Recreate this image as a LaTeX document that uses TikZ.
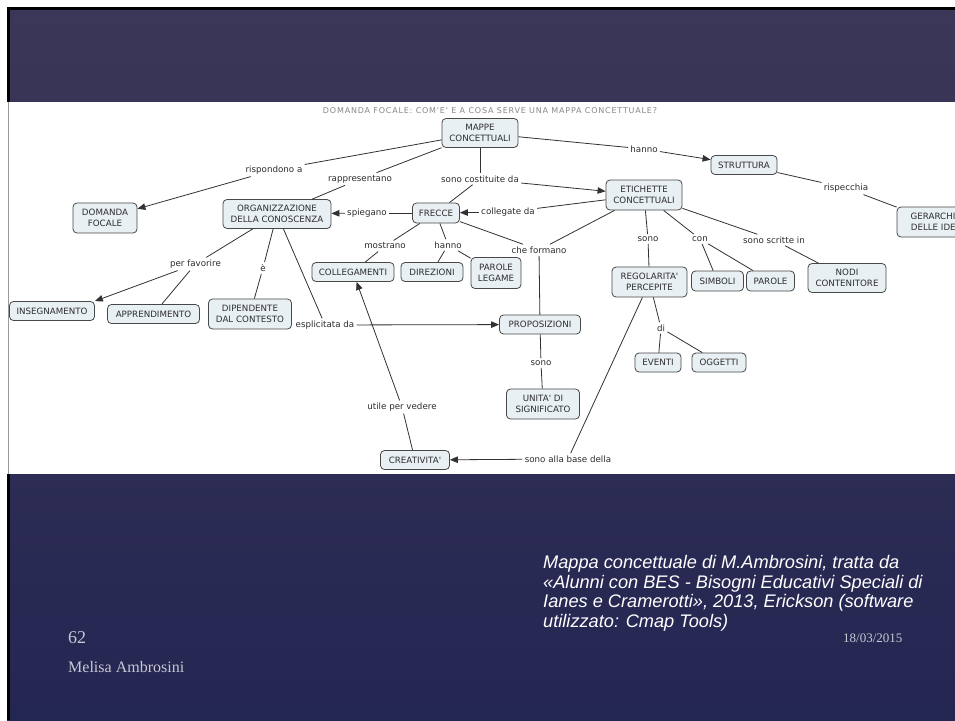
\documentclass[tikz,border=0pt]{standalone}
\usepackage{fontspec}
\setmainfont{DejaVu Sans}
\newfontfamily\mapfont{DejaVu Sans}
\newfontfamily\notefont{Liberation Sans}
\newfontfamily\footfont{Liberation Serif}
\usetikzlibrary{arrows.meta}

\definecolor{slidetop}{RGB}{59,55,88}
\definecolor{slidebot}{RGB}{36,38,82}
\definecolor{conceptfill}{RGB}{233,240,243}
\definecolor{conceptdraw}{RGB}{72,72,72}
\definecolor{inktext}{RGB}{45,45,45}
\definecolor{linkline}{RGB}{50,50,50}
\definecolor{titlegrey}{RGB}{135,135,135}
\definecolor{footgrey}{RGB}{200,200,212}

\begin{document}
\begin{tikzpicture}[x=1pt,y=-1pt,
  concept/.style={draw=conceptdraw, fill=conceptfill, rounded corners=4pt,
    line width=0.8pt, inner sep=0pt, align=center, text=inktext,
    font=\mapfont\fontsize{8.7}{10.7}\selectfont},
  sz/.style 2 args={minimum width=#1pt, minimum height=#2pt},
  lbl/.style={inner sep=2.2pt, text=inktext,
    font=\mapfont\fontsize{8.7}{10.7}\selectfont},
  link/.style={draw=linkline, line width=0.8pt},
  arrowlink/.style={link, -{Triangle[length=8pt,width=6.5pt]}},
]
\clip (0,0) rectangle (955,720);

% slide background and frame
\fill[white] (0,0) rectangle (955,720);
\shade[top color=slidetop, bottom color=slidebot] (7,7) rectangle (955,720);
\fill[black] (7,7) rectangle (955,9.5);
\fill[black] (7,7) rectangle (10,720);

% white area holding the concept map
\fill[white] (7,102) rectangle (955,474);
\fill[black!40] (7.6,102) rectangle (9.4,474);

\node[font=\mapfont\fontsize{8}{9}\selectfont\addfontfeature{LetterSpace=10}, text=titlegrey, inner sep=0pt]
  (title) at (490,111) {DOMANDA FOCALE: COM'E' E A COSA SERVE UNA MAPPA CONCETTUALE?};

% concepts
\node[concept, sz={76}{29}] (mappe) at (480,133) {MAPPE\\CONCETTUALI};
\node[concept, sz={66}{19}] (struttura) at (744,165) {STRUTTURA};
\node[concept, sz={78}{30}] (gerarchia) at (936,222) {GERARCHIA\\DELLE IDEE};
\node[concept, sz={76}{30}] (etichette) at (644,195) {ETICHETTE\\CONCETTUALI};
\node[concept, sz={108}{29}] (organizz) at (277,214) {ORGANIZZAZIONE\\DELLA CONOSCENZA};
\node[concept, sz={64}{30}] (domanda) at (105,218) {DOMANDA\\FOCALE};
\node[concept, sz={47}{20}] (frecce) at (436,213) {FRECCE};
\node[concept, sz={82}{19}] (collegamenti) at (353,272) {COLLEGAMENTI};
\node[concept, sz={62}{19}] (direzioni) at (432,272) {DIREZIONI};
\node[concept, sz={50}{31}] (parolelegame) at (496,273) {PAROLE\\LEGAME};
\node[concept, sz={75}{30}] (regolarita) at (649.5,282) {REGOLARITA'\\PERCEPITE};
\node[concept, sz={52}{20}] (simboli) at (717.5,281) {SIMBOLI};
\node[concept, sz={48}{20}] (parole) at (770.5,281) {PAROLE};
\node[concept, sz={78}{29}] (nodi) at (847,278) {NODI\\CONTENITORE};
\node[concept, sz={46}{19}] (eventi) at (658,362.5) {EVENTI};
\node[concept, sz={54}{19}] (oggetti) at (719,362.5) {OGGETTI};
\node[concept, sz={85}{19}] (insegnamento) at (52,311) {INSEGNAMENTO};
\node[concept, sz={92}{19}] (apprendimento) at (153.5,314) {APPRENDIMENTO};
\node[concept, sz={83}{30}] (dipendente) at (250,314) {DIPENDENTE\\DAL CONTESTO};
\node[concept, sz={81}{19}] (proposizioni) at (540,324.5) {PROPOSIZIONI};
\node[concept, sz={73}{30}] (unita) at (543,404) {UNITA' DI\\SIGNIFICATO};
\node[concept, sz={69}{19}] (creativita) at (415,460) {CREATIVITA'};

% linking phrases
\node[lbl] (rispondono) at (274,170) {rispondono a};
\node[lbl] (rappresentano) at (360,179) {rappresentano};
\node[lbl] (costituite) at (480,179) {sono costituite da};
\node[lbl] (hannoA) at (644,149) {hanno};
\node[lbl] (rispecchia) at (846,188) {rispecchia};
\node[lbl] (spiegano) at (367,213) {spiegano};
\node[lbl] (collegate) at (508,212) {collegate da};
\node[lbl] (mostrano) at (385,246) {mostrano};
\node[lbl] (hannoB) at (448,245) {hanno};
\node[lbl] (formano) at (539,250) {che formano};
\node[lbl] (sonoA) at (648,239) {sono};
\node[lbl] (con) at (700,239) {con};
\node[lbl] (scritte) at (774,240) {sono scritte in};
\node[lbl] (favorire) at (195.5,264) {per favorire};
\node[lbl] (essere) at (263,268) {è};
\node[lbl] (esplicitata) at (325,325) {esplicitata da};
\node[lbl] (sonoB) at (541,363) {sono};
\node[lbl] (utile) at (402,407) {utile per vedere};
\node[lbl] (base) at (568,459) {sono alla base della};
\node[lbl] (di) at (661,328) {di};

% connectors
\draw[link] (mappe) -- (rispondono);
\draw[arrowlink] (rispondono) -- (domanda);
\draw[link] (mappe) -- (rappresentano);
\draw[link] (rappresentano) -- (organizz);
\draw[link] (mappe) -- (costituite);
\draw[arrowlink] (costituite) -- (etichette);
\draw[link] (costituite) -- (frecce);
\draw[link] (mappe) -- (hannoA);
\draw[arrowlink] (hannoA) -- (struttura);
\draw[link] (struttura) -- (rispecchia);
\draw[link] (rispecchia) -- (gerarchia);
\draw[link] (frecce) -- (spiegano);
\draw[arrowlink] (spiegano) -- (organizz);
\draw[link] (etichette) -- (collegate);
\draw[arrowlink] (collegate) -- (frecce);
\draw[link] (frecce) -- (mostrano);
\draw[link] (mostrano) -- (collegamenti);
\draw[link] (frecce) -- (hannoB);
\draw[link] (hannoB) -- (direzioni);
\draw[link] (hannoB) -- (parolelegame);
\draw[link] (frecce) -- (formano);
\draw[link] (etichette) -- (formano);
\draw[link] (formano) -- (proposizioni);
\draw[link] (etichette) -- (sonoA);
\draw[link] (sonoA) -- (regolarita);
\draw[link] (etichette) -- (con);
\draw[link] (con) -- (simboli);
\draw[link] (con) -- (parole);
\draw[link] (etichette) -- (scritte);
\draw[link] (scritte) -- (nodi);
\draw[link] (organizz) -- (favorire);
\draw[arrowlink] (favorire) -- (insegnamento.north east);
\draw[link] (favorire) -- (apprendimento);
\draw[link] (organizz) -- (essere);
\draw[link] (essere) -- (dipendente);
\draw[link] (organizz) -- (esplicitata);
\draw[arrowlink] (esplicitata) -- (proposizioni);
\draw[link] (proposizioni) -- (sonoB);
\draw[link] (sonoB) -- (unita);
\draw[link] (regolarita) -- (di);
\draw[link] (di) -- (eventi);
\draw[link] (di) -- (oggetti);
\draw[link] (regolarita) -- (base);
\draw[arrowlink] (base) -- (creativita);
\draw[link] (creativita) -- (utile);
\draw[arrowlink] (utile) -- (collegamenti);

% slide footer
\node[anchor=north west, inner sep=0pt, align=left, text=white,
  font=\notefont\itshape\fontsize{18.2}{19.7}\selectfont] (nota) at (543,555)
  {Mappa concettuale di M.Ambrosini, tratta da\\
   «Alunni con BES - Bisogni Educativi Speciali di\\
   Ianes e Cramerotti», 2013, Erickson (software\\
   utilizzato: Cmap Tools)};
\node[anchor=west, inner sep=0pt, text=footgrey, font=\footfont\fontsize{13}{15}\selectfont]
  (data) at (843,638) {18/03/2015};
\node[anchor=west, inner sep=0pt, text=footgrey, font=\footfont\fontsize{18}{20}\selectfont]
  (pagina) at (68,638) {62};
\node[anchor=west, inner sep=0pt, text=footgrey, font=\footfont\fontsize{16}{18}\selectfont]
  (autore) at (68,667) {Melisa Ambrosini};
\end{tikzpicture}
\end{document}
